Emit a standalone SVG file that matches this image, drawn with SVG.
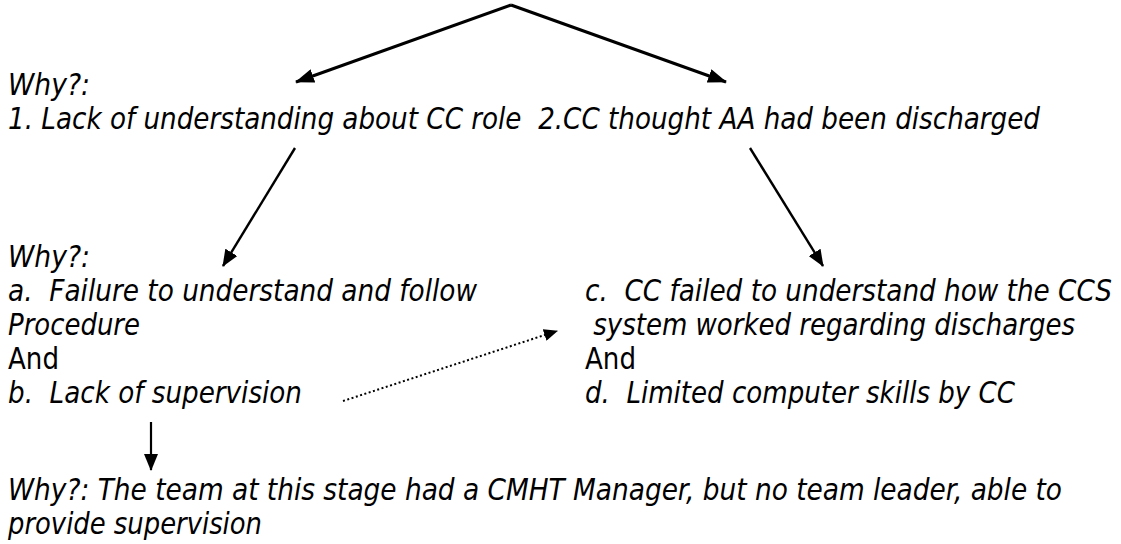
<svg xmlns="http://www.w3.org/2000/svg" width="1121" height="544" viewBox="0 0 1121 544">
<style>
text{font-family:"DejaVu Sans Condensed","DejaVu Sans",sans-serif;font-stretch:condensed;font-size:29.8px;fill:#000;white-space:pre}
.i{font-style:italic}
.c{stroke:#000;fill:none}
</style>
<defs>
<marker id="ahl" viewBox="0 0 19 14" refX="18" refY="7" markerUnits="userSpaceOnUse" markerWidth="19" markerHeight="14" orient="auto"><path d="M0,0L19,7L0,14z" fill="#000"/></marker>
<marker id="ah" viewBox="0 0 17 14" refX="16" refY="7" markerUnits="userSpaceOnUse" markerWidth="17" markerHeight="14" orient="auto"><path d="M0,0L17,7L0,14z" fill="#000"/></marker>
<marker id="ahs" viewBox="0 0 14 12" refX="13" refY="6" markerUnits="userSpaceOnUse" markerWidth="14" markerHeight="12" orient="auto"><path d="M0,0L14,6L0,12z" fill="#000"/></marker>
</defs>
<rect width="1121" height="544" fill="#fff"/>
<g id="connectors">
<line class="c" x1="511" y1="5" x2="296" y2="82" stroke-width="3" marker-end="url(#ahl)"/>
<line class="c" x1="511" y1="5" x2="726" y2="82" stroke-width="3" marker-end="url(#ahl)"/>
<line class="c" x1="295" y1="148" x2="223" y2="266" stroke-width="2.4" marker-end="url(#ah)"/>
<line class="c" x1="750" y1="148" x2="823" y2="266" stroke-width="2.4" marker-end="url(#ah)"/>
<line class="c" x1="343" y1="401" x2="557" y2="331" stroke-width="2" stroke-dasharray="2 2.5" marker-end="url(#ahs)"/>
<line class="c" x1="151" y1="422" x2="151" y2="470" stroke-width="2.2" marker-end="url(#ah)"/>
</g>
<g id="level1">
<text class="i" x="8" y="95" textLength="82" lengthAdjust="spacingAndGlyphs">Why?:</text>
<text class="i" x="8" y="129" xml:space="preserve" textLength="1032" lengthAdjust="spacingAndGlyphs">1. Lack of understanding about CC role  2.CC thought AA had been discharged</text>
</g>
<g id="level2-left">
<text class="i" x="8" y="267" textLength="82" lengthAdjust="spacingAndGlyphs">Why?:</text>
<text class="i" x="8" y="301" xml:space="preserve" textLength="469" lengthAdjust="spacingAndGlyphs">a.  Failure to understand and follow</text>
<text class="i" x="8" y="335" textLength="132" lengthAdjust="spacingAndGlyphs">Procedure</text>
<text x="8" y="369" textLength="51" lengthAdjust="spacingAndGlyphs">And</text>
<text class="i" x="8" y="403" xml:space="preserve" textLength="294" lengthAdjust="spacingAndGlyphs">b.  Lack of supervision</text>
</g>
<g id="level2-right">
<text class="i" x="585" y="301" xml:space="preserve" textLength="527" lengthAdjust="spacingAndGlyphs">c.  CC failed to understand how the CCS</text>
<text class="i" x="585" y="335" xml:space="preserve" textLength="490" lengthAdjust="spacingAndGlyphs"> system worked regarding discharges</text>
<text x="585" y="369" textLength="51" lengthAdjust="spacingAndGlyphs">And</text>
<text class="i" x="585" y="403" xml:space="preserve" textLength="430" lengthAdjust="spacingAndGlyphs">d.  Limited computer skills by CC</text>
</g>
<g id="level3">
<text class="i" x="8" y="500" textLength="1054" lengthAdjust="spacingAndGlyphs">Why?: The team at this stage had a CMHT Manager, but no team leader, able to</text>
<text class="i" x="8" y="534" textLength="254" lengthAdjust="spacingAndGlyphs">provide supervision</text>
</g>
</svg>
